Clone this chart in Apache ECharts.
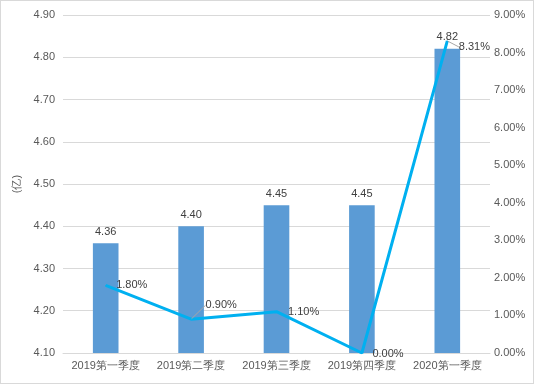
<!DOCTYPE html>
<html><head><meta charset="utf-8">
<script src="https://cdn.jsdelivr.net/npm/echarts@6/dist/echarts.min.js"></script>
<style>
html,body{margin:0;padding:0;background:#fff;}
#c{width:532px;height:382px;border:1px solid #d9d9d9;}
</style></head>
<body><div id="c"></div>
<script>
var categories = ['2019第一季度','2019第二季度','2019第三季度','2019第四季度','2020第一季度'];
var barValues = [4.36, 4.40, 4.45, 4.45, 4.82];
var lineValues = [1.80, 0.90, 1.10, 0.00, 8.31];
var leftTicks = {min: 4.1, max: 4.9, interval: 0.1};
var rightTicks = {min: 0, max: 9, interval: 1};

var font = 'Liberation Sans, Arial, sans-serif';
var txt = '#595959';
var lineLabelShift = [[8, 0], [12, -14], [9, 0], [8, 1], [9, 6]];
var leaderShown = [false, true, false, false, true];
var lineData = lineValues.map(function(v, i){
  return {value: v, labelLine: {show: leaderShown[i]}};
});
var chart = echarts.init(document.getElementById('c'));
chart.setOption({
  animation: false,
  textStyle: {fontFamily: font},
  grid: {left: 62, right: 43, top: 14, bottom: 30},
  xAxis: {
    type: 'category', data: categories,
    axisLine: {lineStyle: {color: '#d9d9d9'}},
    axisTick: {show: false},
    axisLabel: {color: txt, fontSize: 11, fontFamily: font, margin: 7, interval: 0}
  },
  yAxis: [{
    type: 'value', min: leftTicks.min, max: leftTicks.max, interval: leftTicks.interval,
    name: '(亿)', nameLocation: 'middle', nameRotate: 90, nameGap: 36,
    nameTextStyle: {color: txt, fontSize: 11, fontFamily: font},
    axisLabel: {color: txt, fontSize: 11, fontFamily: font, margin: 8,
      formatter: function(v){return v.toFixed(2);}},
    splitLine: {lineStyle: {color: '#d9d9d9'}},
    axisLine: {show: false}, axisTick: {show: false}
  },{
    type: 'value', min: rightTicks.min, max: rightTicks.max, interval: rightTicks.interval,
    axisLabel: {color: txt, fontSize: 11, fontFamily: font, margin: 4,
      formatter: function(v){return v.toFixed(2) + '%';}},
    splitLine: {show: false},
    axisLine: {show: false}, axisTick: {show: false}
  }],
  series: [{
    type: 'bar', data: barValues, barWidth: '30%',
    itemStyle: {color: '#5B9BD5'},
    label: {show: true, position: 'top', color: '#404040', fontSize: 11, fontFamily: font,
      distance: 6, formatter: function(p){return p.value.toFixed(2);}}
  },{
    type: 'line', yAxisIndex: 1, data: lineData,
    symbol: 'circle', symbolSize: 1, showSymbol: true,
    itemStyle: {color: '#00B0F0'},
    lineStyle: {color: '#00B0F0', width: 3},
    label: {show: true, position: 'right', color: '#404040', fontSize: 11, fontFamily: font, distance: 2,
      formatter: function(p){return p.value.toFixed(2) + '%';}},
    labelLine: {show: false, lineStyle: {color: '#a6a6a6', width: 1}},
    labelLayout: function(p){
      var s = lineLabelShift[p.dataIndex];
      return {dx: s[0], dy: s[1]};
    },
    z: 3
  }]
});
</script></body></html>
